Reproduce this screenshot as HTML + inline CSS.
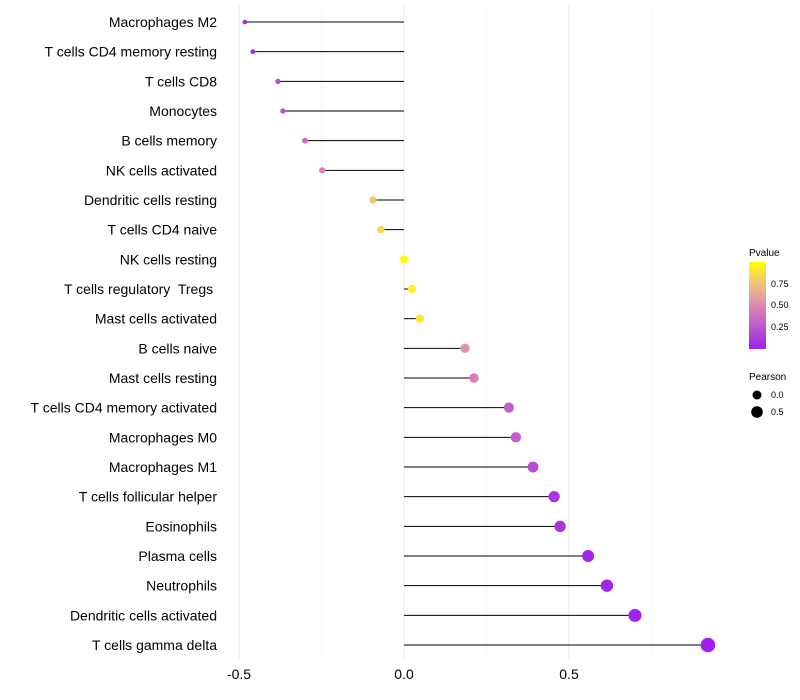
<!DOCTYPE html>
<html><head><meta charset="utf-8"><style>
body{margin:0;background:#fff;font-family:"Liberation Sans",sans-serif}
svg{display:block}
text{white-space:pre}
</style></head><body>
<svg id="c" width="800" height="700" xmlns="http://www.w3.org/2000/svg">
<defs><linearGradient id="g" x1="0" y1="1" x2="0" y2="0">
<stop offset="0" stop-color="#A020F0"/><stop offset="0.5" stop-color="#D98BB0"/><stop offset="0.75" stop-color="#F0C080"/><stop offset="1" stop-color="#FFFF00"/></linearGradient></defs>
<g id="grid"></g><g id="marks"></g><g id="axes"></g>
<g font-size="9" fill="#000">
<text x="749" y="256" font-size="10">Pvalue</text>
<rect x="749" y="262" width="17" height="87" fill="url(#g)"/>
<text x="771" y="287">0.75</text>
<text x="771" y="308">0.50</text>
<text x="771" y="330">0.25</text>
<text x="749" y="380" font-size="10">Pearson</text>
<circle cx="757" cy="395" r="4.5" fill="#000"/>
<text x="771" y="398">0.0</text>
<circle cx="757" cy="412" r="5.8" fill="#000"/>
<text x="771" y="415">0.5</text>
</g>
</svg>
<script>
const categories=["Macrophages M2","T cells CD4 memory resting","T cells CD8","Monocytes","B cells memory","NK cells activated","Dendritic cells resting","T cells CD4 naive","NK cells resting","T cells regulatory  Tregs ","Mast cells activated","B cells naive","Mast cells resting","T cells CD4 memory activated","Macrophages M0","Macrophages M1","T cells follicular helper","Eosinophils","Plasma cells","Neutrophils","Dendritic cells activated","T cells gamma delta"];
const pearson=[-0.482,-0.458,-0.382,-0.367,-0.30,-0.248,-0.094,-0.07,0.0,0.024,0.048,0.185,0.212,0.318,0.339,0.391,0.455,0.473,0.558,0.615,0.70,0.921];
const pvalues=[0.03,0.04,0.2,0.25,0.35,0.45,0.78,0.85,1.0,0.95,0.9,0.55,0.45,0.3,0.3,0.2,0.1,0.1,0.03,0.02,0.01,0.001];
const xTicks=[-0.5,0,0.5];
const xTickLabels=["-0.5","0.0","0.5"];
const xMinor=[-0.25,0.25,0.75];
const NS="http://www.w3.org/2000/svg";
const x=v=>404+v*330;
const y=i=>22+i*(645-22)/(categories.length-1);
const r=v=>2.3+(v+0.482)/(0.921+0.482)*5;
function lerp(a,b,t){return a.map((c,i)=>Math.round(c+(b[i]-c)*t));}
const stops=[[0,[160,32,240]],[0.5,[217,139,176]],[0.75,[240,192,128]],[1,[255,255,0]]];
function col(p){for(let k=1;k<stops.length;k++){if(p<=stops[k][0]){const t=(p-stops[k-1][0])/(stops[k][0]-stops[k-1][0]);return "rgb("+lerp(stops[k-1][1],stops[k][1],t).join(",")+")";}}return "rgb(255,255,0)";}
function mk(tag,at,parent){const e=document.createElementNS(NS,tag);for(const k in at)e.setAttribute(k,at[k]);document.getElementById(parent).appendChild(e);return e;}
xMinor.forEach(v=>{const l=mk("line",{x1:x(v),x2:x(v),y1:5,y2:660,stroke:"#f2f2f2","stroke-width":0.6},"grid");

});
xTicks.forEach((v,i)=>{const l=mk("line",{x1:x(v),x2:x(v),y1:5,y2:660,stroke:"#ebebeb","stroke-width":1.1},"grid");


const t=mk("text",{x:x(v),y:679,"text-anchor":"middle","font-size":14,fill:"#000"},"axes");t.textContent=xTickLabels[i];

});
categories.forEach((c,i)=>{
const t=mk("text",{x:217,y:y(i)+5,"text-anchor":"end","font-size":14,fill:"#000"},"axes");t.textContent=c;


const l=mk("line",{x1:x(0),x2:x(pearson[i]),y1:y(i),y2:y(i),stroke:"#000","stroke-width":1},"marks");


const d=mk("circle",{cx:x(pearson[i]),cy:y(i),r:r(pearson[i]),fill:col(pvalues[i])},"marks");


});
</script>
</body></html>
